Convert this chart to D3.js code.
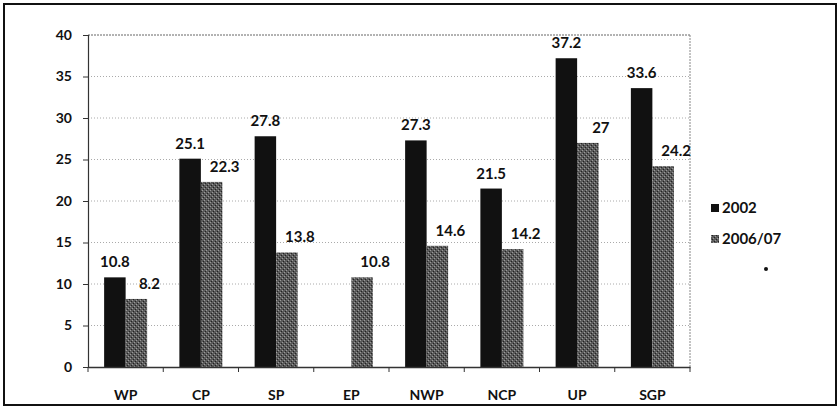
<!DOCTYPE html>
<html><head><meta charset="utf-8">
<script src="https://cdn.jsdelivr.net/npm/d3@7"></script>
<style>body{margin:0;background:#fff}svg{display:block}</style>
</head><body>
<script>
const categories = ["WP","CP","SP","EP","NWP","NCP","UP","SGP"];
const series = ["2002","2006/07"];
const values2002 = [10.8, 25.1, 27.8, null, 27.3, 21.5, 37.2, 33.6];
const values2006 = [8.2, 22.3, 13.8, 10.8, 14.6, 14.2, 27, 24.2];
const yTicks = [0,5,10,15,20,25,30,35,40];

(function(){
const W = 840, H = 416;
const svg = d3.select("body").append("svg").attr("width", W).attr("height", H);
const font = "Lato, 'Open Sans', sans-serif";

// pattern for the dithered grey series
const defs = svg.append("defs");
const pat = defs.append("pattern").attr("id","dither").attr("patternUnits","userSpaceOnUse")
  .attr("width",4).attr("height",4);
pat.append("rect").attr("width",4).attr("height",4).attr("fill","#5a5a5a");
pat.append("rect").attr("x",0).attr("y",0).attr("width",1).attr("height",1).attr("fill","#9a9a9a");
pat.append("rect").attr("x",2).attr("y",2).attr("width",1).attr("height",1).attr("fill","#9a9a9a");
pat.append("rect").attr("x",1).attr("y",3).attr("width",1).attr("height",1).attr("fill","#222");
pat.append("rect").attr("x",3).attr("y",1).attr("width",1).attr("height",1).attr("fill","#222");

// outer border
svg.append("rect").attr("x",4).attr("y",4).attr("width",832).attr("height",401)
  .attr("fill","none").attr("stroke","#111").attr("stroke-width",2);

const pLeft = 88, pRight = 690, pTop = 35, pBottom = 367;
const x = d3.scaleBand().domain(categories).range([pLeft, pRight]).paddingInner(0).paddingOuter(0);
const y = d3.scaleLinear().domain([0,40]).range([pBottom, pTop]);
const bw = 21.5;

// gridlines
svg.append("g").selectAll("line").data(yTicks.filter(d=>d>0 && d<40)).join("line")
  .attr("x1", pLeft).attr("x2", pRight).attr("y1", d=>y(d)).attr("y2", d=>y(d))
  .attr("stroke","#aaa").attr("stroke-width",1).attr("stroke-dasharray","1,2");
// plot border top/right
svg.append("line").attr("x1",pLeft).attr("x2",pRight).attr("y1",pTop).attr("y2",pTop)
  .attr("stroke","#666").attr("stroke-dasharray","2,1");
svg.append("line").attr("x1",pRight).attr("x2",pRight).attr("y1",pTop).attr("y2",pBottom)
  .attr("stroke","#888").attr("stroke-dasharray","2,1");

// bars
const g = svg.append("g");
const data2002 = categories.map((c,i)=>({c, v: values2002[i]})).filter(d=>d.v!=null);
const data2006 = categories.map((c,i)=>({c, v: values2006[i]}));
const cx = c => x(c) + x.bandwidth()/2;
g.selectAll(".b1").data(data2002).join("rect")
  .attr("x", d=>cx(d.c)-bw).attr("width", bw)
  .attr("y", d=>y(d.v)).attr("height", d=>pBottom - y(d.v)).attr("fill","#111");
g.selectAll(".b2").data(data2006).join("rect")
  .attr("x", d=>cx(d.c)).attr("width", bw)
  .attr("y", d=>y(d.v)).attr("height", d=>pBottom - y(d.v)).attr("fill","url(#dither)");

// value labels
g.selectAll(".l1").data(data2002).join("text")
  .attr("x", d=>cx(d.c)-bw/2).attr("y", d=>y(d.v)-10).attr("text-anchor","middle")
  .attr("font-family",font).attr("font-size",15).attr("font-weight","bold").attr("fill","#111")
  .text(d=>d.v);
g.selectAll(".l2").data(data2006).join("text")
  .attr("x", d=>cx(d.c)+bw/2+13).attr("y", d=>y(d.v)-10).attr("text-anchor","middle")
  .attr("font-family",font).attr("font-size",15).attr("font-weight","bold").attr("fill","#111")
  .text(d=>d.v);

// y axis
const yAxis = svg.append("g").attr("transform",`translate(${pLeft},0)`)
  .call(d3.axisLeft(y).tickValues(yTicks).tickSize(5).tickPadding(11));
yAxis.select(".domain").attr("stroke","#333").attr("stroke-width",1.2);
yAxis.selectAll(".tick line").attr("stroke","#333");
yAxis.selectAll("text").attr("font-family",font).attr("font-size",14).attr("font-weight","bold").attr("fill","#111");

// x axis
const xAxis = svg.append("g").attr("transform",`translate(0,${pBottom})`)
  .call(d3.axisBottom(x).tickSize(0).tickPadding(23));
xAxis.select(".domain").attr("stroke","#333").attr("stroke-width",1.5);
xAxis.selectAll("text").attr("font-family",font).attr("font-size",14).attr("font-weight","bold").attr("fill","#111");
svg.append("g").selectAll("line").data(categories.map(c=>x(c)).concat([pRight])).join("line")
  .attr("x1",d=>d).attr("x2",d=>d).attr("y1",pBottom).attr("y2",pBottom+5).attr("stroke","#333");

// legend
const leg = svg.append("g").attr("transform","translate(711,0)");
const legY = [208, 239];
const fills = ["#111","url(#dither)"];
series.forEach((s,i)=>{
  leg.append("rect").attr("x",0).attr("y",legY[i]-4).attr("width",8).attr("height",8).attr("fill",fills[i]);
  leg.append("text").attr("x",11).attr("y",legY[i]+5).attr("font-family",font).attr("font-size",15)
    .attr("font-weight","bold").attr("fill","#111").text(s);
});
svg.append("circle").attr("cx",766).attr("cy",269).attr("r",2).attr("fill","#111");
})();
</script>
</body></html>
